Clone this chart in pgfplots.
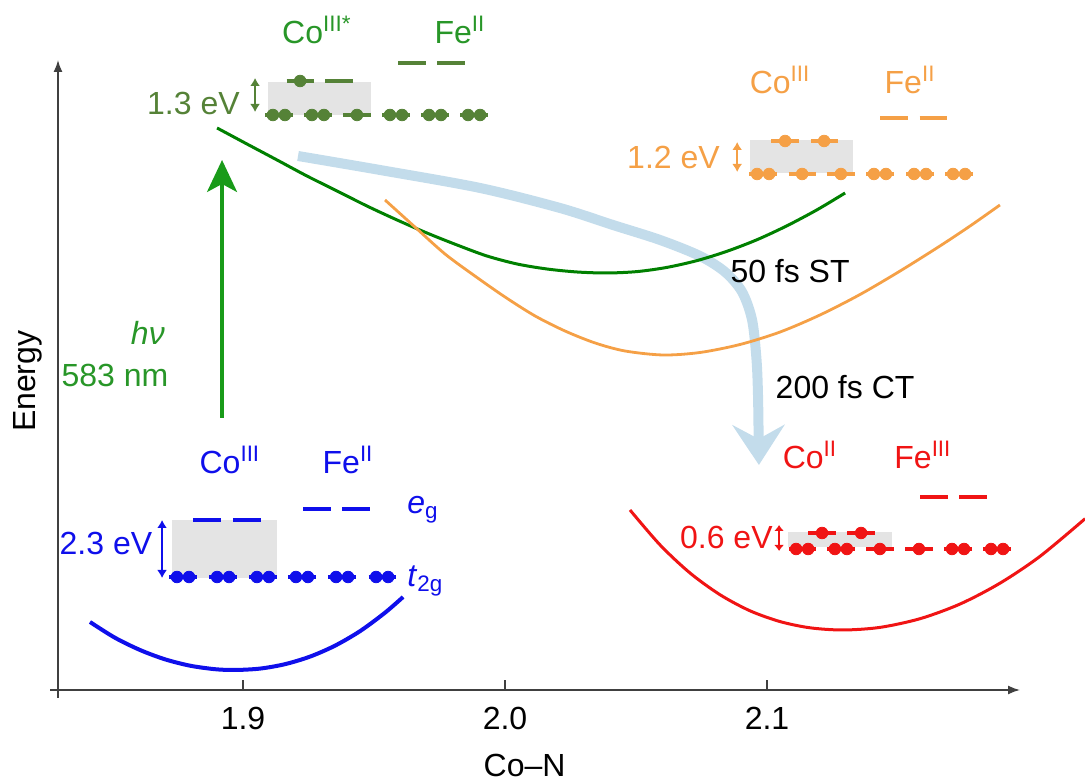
\documentclass[border=0pt]{standalone}
\usepackage{pgfplots}
\pgfplotsset{compat=1.18}
\usepackage{fontspec}
\setmainfont{Liberation Sans}
\usetikzlibrary{arrows.meta}

\definecolor{gsBlue}{RGB}{15,15,235}
\definecolor{curveGreen}{RGB}{0,128,0}
\definecolor{excGreen}{RGB}{25,155,25}
\definecolor{labGreen}{RGB}{40,150,40}
\definecolor{levGreen}{RGB}{85,130,55}
\definecolor{stOrange}{RGB}{245,160,70}
\definecolor{ctRed}{RGB}{240,20,20}
\definecolor{pathBlue}{RGB}{195,220,235}
\definecolor{gapGray}{RGB}{228,228,228}

\pgfplotsset{
  level/.style={line width=2pt, line cap=butt, unbounded coords=jump, forget plot},
  elec/.style={only marks, mark=*, mark size=2.9pt, forget plot},
  gap/.style={fill=gapGray, draw=none, forget plot},
  dblarrow/.style={line width=1pt, {Latex[length=4pt,width=5pt]}-{Latex[length=4pt,width=5pt]}, forget plot},
}

\begin{document}
\begin{tikzpicture}[font=\fontsize{16}{19}\selectfont]
\useasboundingbox (0,0) rectangle (542.5pt,390pt);
\begin{axis}[
  at={(29pt,45pt)}, anchor=south west,
  scale only axis, width=481pt, height=315pt,
  xmin=1.82939, xmax=2.19656, ymin=0, ymax=6.3,
  clip=false,
  axis lines=left,
  axis line style={draw=black!75, line width=0.8pt, shorten <=-4pt,
                   -{Latex[length=6pt,width=4.5pt]}},
  xtick={1.9,2.0,2.1}, xticklabels={1.9,2.0,2.1},
  ytick=\empty,
  tick align=inside, major tick length=5pt,
  tick style={draw=black!75, line width=0.8pt},
  tick label style={font=\fontsize{16}{19}\selectfont},
  xticklabel style={yshift=-5pt},
  label style={font=\fontsize{16}{19}\selectfont},
  xlabel={Co--N},
  xlabel style={at={(axis description cs:0.485,0)}, anchor=center, yshift=-37.5pt},
  ylabel={Energy},
  ylabel style={at={(axis description cs:-0.031,0.49)}, anchor=center},
]

% relaxation pathway (drawn beneath the potential curves)
\addplot[pathBlue, line width=5pt, smooth, forget plot,
  -{Stealth[length=20pt, width=26pt, inset=7pt]}] coordinates {
  (1.9210,5.34) (1.9523,5.20) (1.9905,5.02) (2.0210,4.82) (2.0412,4.65)
  (2.0592,4.50) (2.0744,4.34) (2.0840,4.18) (2.0905,3.98) (2.0943,3.70)
  (2.0960,3.30) (2.0966,2.90) (2.0969,2.25)};

% potential energy curves
\addplot[gsBlue, line width=2pt, smooth] coordinates {
  (1.8416,0.680) (1.8511,0.523) (1.8607,0.400) (1.8702,0.307) (1.8798,0.243)
  (1.8893,0.208) (1.8969,0.200) (1.9065,0.214) (1.9160,0.258) (1.9256,0.334)
  (1.9351,0.443) (1.9447,0.589) (1.9542,0.773) (1.9611,0.930)};
\addplot[curveGreen, line width=1.5pt, smooth] coordinates {
  (1.8901,5.62) (1.9015,5.46) (1.9130,5.30) (1.9244,5.14) (1.9359,4.99)
  (1.9473,4.84) (1.9588,4.70) (1.9702,4.57) (1.9817,4.45) (1.9931,4.34)
  (2.0046,4.26) (2.0160,4.21) (2.0275,4.18) (2.0389,4.17) (2.0504,4.184)
  (2.0618,4.226) (2.0733,4.294) (2.0847,4.387) (2.0962,4.503) (2.1076,4.642)
  (2.1191,4.802) (2.1298,4.970)};
\addplot[stOrange, line width=1.4pt, smooth] coordinates {
  (1.9542,4.90) (1.9656,4.63) (1.9771,4.36) (1.9885,4.14) (2.0000,3.93)
  (2.0115,3.74) (2.0229,3.59) (2.0344,3.47) (2.0458,3.39) (2.0603,3.35)
  (2.0744,3.375) (2.0897,3.455) (2.1050,3.58) (2.1202,3.75) (2.1355,3.955)
  (2.1508,4.19) (2.1660,4.44) (2.1775,4.64) (2.1889,4.85)};
\addplot[ctRed, line width=1.5pt, smooth] coordinates {
  (2.0477,1.800) (2.0592,1.450) (2.0706,1.170) (2.0821,0.952) (2.0935,0.792)
  (2.1050,0.684) (2.1164,0.622) (2.1290,0.600) (2.1431,0.626) (2.1584,0.713)
  (2.1737,0.860) (2.1889,1.068) (2.2042,1.337) (2.2214,1.713)};

% photoexcitation
\addplot[excGreen, line width=1.6pt, forget plot,
  -{Stealth[length=16pt, width=15pt, inset=4pt]}] coordinates {
  (1.8920,2.72) (1.8920,5.30)};

% ---- ground state: Co(III) / Fe(II) ----
\addplot[gap] coordinates {(1.8729,1.12) (1.9130,1.12) (1.9130,1.70) (1.8729,1.70)};
\addplot[level, gsBlue] coordinates {
  (1.8719,1.13) (1.8823,1.13) (nan,nan) (1.8872,1.13) (1.8976,1.13) (nan,nan)
  (1.9024,1.13) (1.9128,1.13) (nan,nan) (1.9173,1.13) (1.9277,1.13) (nan,nan)
  (1.9326,1.13) (1.9430,1.13) (nan,nan) (1.9479,1.13) (1.9583,1.13) (nan,nan)
  (1.8811,1.70) (1.8915,1.70) (nan,nan) (1.8963,1.70) (1.9067,1.70) (nan,nan)
  (1.9230,1.81) (1.9334,1.81) (nan,nan) (1.9379,1.81) (1.9483,1.81)};
\addplot[elec, gsBlue] coordinates {
  (1.8748,1.13) (1.8794,1.13) (1.8901,1.13) (1.8947,1.13) (1.9053,1.13) (1.9099,1.13)
  (1.9202,1.13) (1.9248,1.13) (1.9355,1.13) (1.9401,1.13) (1.9508,1.13) (1.9554,1.13)};
\addplot[dblarrow, gsBlue, line width=0.8pt] coordinates {(1.8691,1.12) (1.8691,1.70)};
\node[gsBlue] at (axis cs:1.8950,2.30) {Co\textsuperscript{III}};
\node[gsBlue] at (axis cs:1.9401,2.30) {Fe\textsuperscript{II}};
\node[gsBlue, anchor=west, inner sep=0pt] at (axis cs:1.9626,1.80) {\textit{e}\textsubscript{g}};
\node[gsBlue, anchor=west, inner sep=0pt] at (axis cs:1.9626,1.09) {\textit{t}\textsubscript{2g}};
\node[gsBlue, anchor=east, inner sep=0pt] at (axis cs:1.8655,1.47) {2.3 eV};

% ---- excited Co(III)* / Fe(II) ----
\addplot[gap] coordinates {(1.9095,5.75) (1.9489,5.75) (1.9489,6.08) (1.9095,6.08)};
\addplot[level, levGreen] coordinates {
  (1.9085,5.75) (1.9189,5.75) (nan,nan) (1.9234,5.75) (1.9338,5.75) (nan,nan)
  (1.9383,5.75) (1.9487,5.75) (nan,nan) (1.9532,5.75) (1.9636,5.75) (nan,nan)
  (1.9681,5.75) (1.9785,5.75) (nan,nan) (1.9830,5.75) (1.9934,5.75) (nan,nan)
  (1.9166,6.09) (1.9270,6.09) (nan,nan) (1.9314,6.09) (1.9418,6.09) (nan,nan)
  (1.9593,6.27) (1.9697,6.27) (nan,nan) (1.9742,6.27) (1.9846,6.27)};
\addplot[elec, levGreen] coordinates {
  (1.9114,5.75) (1.9160,5.75) (1.9263,5.75) (1.9309,5.75) (1.9435,5.75)
  (1.9561,5.75) (1.9607,5.75) (1.9710,5.75) (1.9756,5.75) (1.9859,5.75) (1.9905,5.75)
  (1.9218,6.09)};
\addplot[dblarrow, levGreen] coordinates {(1.9046,5.78) (1.9046,6.12)};
\node[labGreen] at (axis cs:1.9282,6.60) {Co\textsuperscript{III*}};
\node[labGreen] at (axis cs:1.9828,6.60) {Fe\textsuperscript{II}};
\node[levGreen, anchor=east, inner sep=0pt] at (axis cs:1.8989,5.87) {1.3 eV};

% ---- spin-transition state: Co(III) / Fe(II) ----
\addplot[gap] coordinates {(2.0935,5.17) (2.1328,5.17) (2.1328,5.50) (2.0935,5.50)};
\addplot[level, stOrange] coordinates {
  (2.0933,5.16) (2.1037,5.16) (nan,nan) (2.1082,5.16) (2.1186,5.16) (nan,nan)
  (2.1230,5.16) (2.1334,5.16) (nan,nan) (2.1379,5.16) (2.1483,5.16) (nan,nan)
  (2.1532,5.16) (2.1636,5.16) (nan,nan) (2.1681,5.16) (2.1785,5.16) (nan,nan)
  (2.1017,5.49) (2.1121,5.49) (nan,nan) (2.1166,5.49) (2.1270,5.49) (nan,nan)
  (2.1433,5.72) (2.1537,5.72) (nan,nan) (2.1582,5.72) (2.1686,5.72)};
\addplot[elec, stOrange] coordinates {
  (2.0962,5.16) (2.1008,5.16) (2.1134,5.16) (2.1282,5.16)
  (2.1408,5.16) (2.1454,5.16) (2.1561,5.16) (2.1607,5.16) (2.1710,5.16) (2.1756,5.16)
  (2.1069,5.49) (2.1218,5.49)};
\addplot[dblarrow, stOrange] coordinates {(2.0886,5.18) (2.0886,5.48)};
\node[stOrange] at (axis cs:2.1050,6.10) {Co\textsuperscript{III}};
\node[stOrange] at (axis cs:2.1546,6.10) {Fe\textsuperscript{II}};
\node[stOrange, anchor=east, inner sep=0pt] at (axis cs:2.0821,5.33) {1.2 eV};

% ---- charge-transfer state: Co(II) / Fe(III) ----
\addplot[gap] coordinates {(2.1080,1.43) (2.1477,1.43) (2.1477,1.58) (2.1080,1.58)};
\addplot[level, ctRed] coordinates {
  (2.1082,1.41) (2.1186,1.41) (nan,nan) (2.1230,1.41) (2.1334,1.41) (nan,nan)
  (2.1379,1.41) (2.1483,1.41) (nan,nan) (2.1528,1.41) (2.1632,1.41) (nan,nan)
  (2.1677,1.41) (2.1781,1.41) (nan,nan) (2.1826,1.41) (2.1930,1.41) (nan,nan)
  (2.1158,1.57) (2.1262,1.57) (nan,nan) (2.1307,1.57) (2.1411,1.57) (nan,nan)
  (2.1585,1.93) (2.1689,1.93) (nan,nan) (2.1734,1.93) (2.1838,1.93)};
\addplot[elec, ctRed] coordinates {
  (2.1111,1.41) (2.1157,1.41) (2.1259,1.41) (2.1305,1.41) (2.1431,1.41)
  (2.1580,1.41) (2.1706,1.41) (2.1752,1.41) (2.1855,1.41) (2.1901,1.41)
  (2.1210,1.57) (2.1359,1.57)};
\addplot[dblarrow, ctRed, {Latex[length=3pt,width=5pt]}-{Latex[length=3pt,width=5pt]}] coordinates {(2.1046,1.39) (2.1046,1.65)};
\node[ctRed] at (axis cs:2.1164,2.35) {Co\textsuperscript{II}};
\node[ctRed] at (axis cs:2.1595,2.35) {Fe\textsuperscript{III}};
\node[ctRed, anchor=east, inner sep=0pt] at (axis cs:2.1023,1.53) {0.6 eV};

% process annotations
\node[labGreen] at (axis cs:1.8637,3.57) {\textit{hν}};
\node[labGreen] at (axis cs:1.8511,3.15) {583 nm};
\node[black] at (axis cs:2.1088,4.19) {50 fs ST};
\node[black] at (axis cs:2.1298,3.03) {200 fs CT};

\end{axis}
\end{tikzpicture}
\end{document}
